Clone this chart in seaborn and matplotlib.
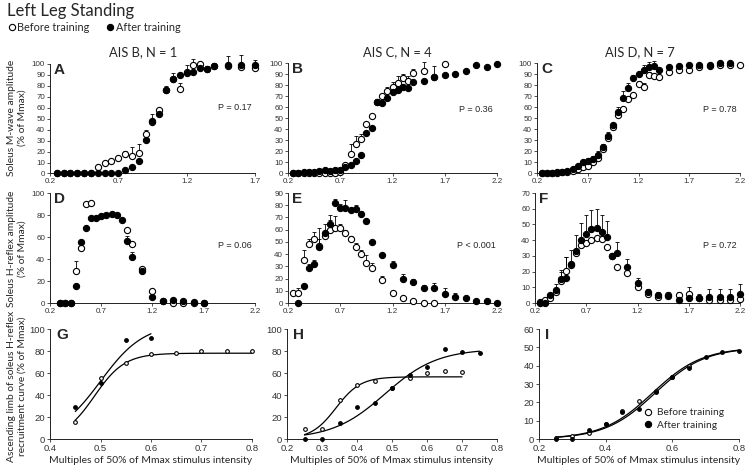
import numpy as np
import seaborn as sns
import matplotlib.pyplot as plt
from matplotlib.lines import Line2D

# ---------------- data ----------------
# A: soleus M-wave, AIS B (N = 1)
x_a = [0.25, 0.30, 0.35, 0.40, 0.45, 0.50, 0.55, 0.60, 0.65, 0.70, 0.75, 0.80, 0.85, 0.90,
       0.95, 1.00, 1.05, 1.10, 1.15, 1.20, 1.25, 1.30, 1.35, 1.40, 1.50, 1.60, 1.70]
a_before = [0, 0, 0, 0, 0, 0, 5.6, 9.4, 11, 14, 17.5, 15.6, 19, 36,
            47, 58, 76, 86, 77, 93, 99.5, 100, 95, 98, 98, 97, 96]
a_after = [0, 0, 0, 0, 0, 0, 0, 0, 0, 0, 3.4, 6.2, 11, 30.5,
           47.5, 54, 76, 86, 90, 91.5, 93, 96.5, 95, 98.5, 99.5, 99.5, 99.5]
a_err_before = [0, 0, 0, 0, 0, 0, 0, 0, 0, 0, 3, 9, 8, 4,
                0, 0, 0, 0, 6, 6, 5, 0, 0, 0, 0, 0, 0]
a_err_after = [0, 0, 0, 0, 0, 0, 0, 0, 0, 0, 0, 0, 0, 0,
               7, 0, 4, 6, 0, 0, 0, 0, 3, 2, 8, 9, 4]

# B: soleus M-wave, AIS C (N = 4)
x_b = [0.25, 0.30, 0.35, 0.40, 0.45, 0.50, 0.55, 0.60, 0.65, 0.70, 0.75, 0.80, 0.85, 0.90,
       0.95, 1.00, 1.05, 1.10, 1.15, 1.20, 1.25, 1.30, 1.35, 1.40, 1.50, 1.60, 1.70, 1.80,
       1.90, 2.00, 2.10, 2.20]
b_before = [0, 0, 0, 0, 0, 0, 0, 0, 0.5, 1, 8, 18, 27, 31,
            45, 52, 65, 70, 75, 78, 82, 86, 84, 91, 93, 87, 99, np.nan,
            np.nan, np.nan, np.nan, np.nan]
b_after = [0, 0, 1.5, 1.5, 1, 2.4, 3, 2.4, 3, 3.6, 6, 8, 11, 17,
           37, 41, 65, 64, 68, 74, 76, 78, 77, 83, 84, 87, 89, 90,
           93, 98, 96, 99]
b_err_before = [0, 0, 0, 0, 0, 0, 0, 0, 0, 0, 0, 9, 7, 5,
                0, 0, 0, 0, 3, 5, 6, 4, 4, 4, 8, 0, 0, 0,
                0, 0, 0, 0]
b_err_after = [0, 0, 0, 0, 0, 0, 0, 0, 0, 0, 0, 0, 0, 0,
               0, 0, 2, 0, 0, 3, 0, 0, 0, 0, 0, 10, 0, 0,
               2, 0, 0, 0]

# C: soleus M-wave, AIS D (N = 7)
x_c = x_b
c_before = [0, 0, 0, 0.5, 1, 1.5, 2, 4, 6, 7, 10, 14, 22, 32,
            42, 53, 58, 67, 71, 81, 78, 89, 88, 87, 92, 94, 94, 96,
            97, 98, 98, 98]
c_after = [0, 0, 0.5, 1, 1.5, 2, 4, 7, 10, 11, 13, 17, 24, 34,
           44, 56, 68, 77, 86, 90, 94, 96, 97, 94, 96, 97, 98, 98,
           98, 100, 100, np.nan]
c_err_before = [0, 0, 0, 0, 0, 0, 0, 0, 0, 0, 3, 5, 4, 0,
                0, 0, 0, 0, 0, 3, 4, 3, 0, 0, 0, 0, 0, 0,
                0, 0, 0, 0]
c_err_after = [0, 0, 0, 0, 0, 0, 0, 0, 0, 3, 3, 3, 3, 4,
               0, 4, 7, 5, 3, 0, 4, 5, 5, 0, 2, 2, 2, 0,
               0, 0, 0, 0]

# D: soleus H-reflex, AIS B
x_d = [0.30, 0.35, 0.40, 0.45, 0.50, 0.55, 0.60, 0.65, 0.70, 0.75, 0.80, 0.85, 0.90, 0.95,
       1.00, 1.10, 1.20, 1.30, 1.40, 1.50, 1.60, 1.70]
d_before = [0, 0, 0, 28.8, 50, 89.7, 91, np.nan, np.nan, np.nan, np.nan, np.nan, np.nan, 66,
            54, 31, 10.6, 1.5, 0, 0, 0, 0]
d_after = [0, 0, 0, 15.5, 55.5, 68, 77, 77, 79, 80, 80.6, 79.7, 75.8, 56,
           41.8, 28.8, 5.5, 1.5, 2.4, 1.8, 1, 0]
d_err_before = [0, 0, 0, 9, 0, 0, 0, 0, 0, 0, 0, 0, 0, 0,
                0, 0, 0, 0, 0, 0, 0, 0]
d_err_after = [0, 0, 0, 0, 0, 0, 0, 0, 0, 0, 0, 0, 0, 5,
               5, 0, 0, 0, 0, 0, 0, 0]

# E: soleus H-reflex, AIS C
x_e = [0.25, 0.30, 0.35, 0.40, 0.45, 0.50, 0.55, 0.60, 0.65, 0.70, 0.75, 0.80, 0.85, 0.90,
       0.95, 1.00, 1.10, 1.20, 1.30, 1.40, 1.50, 1.60, 1.70, 1.80, 1.90, 2.00, 2.10, 2.20]
e_before = [8, 8, 35, 48, 52, 47, 55, 60, 61, 61, 57, 52, 46, 40,
            33, 29, 19, 8, 4, 2, 0, 0, np.nan, np.nan, np.nan, np.nan, np.nan, np.nan]
e_after = [np.nan, 0, 14, 29, 32, 46, 57, 65, 82, 78, 78, 76, 77, 73,
           67, 50, 39, 31, 20, 17, 12, 12, 7, 5, 4, 2, 1.5, 0]
e_err_before = [0, 4, 8, 4, 6, 14, 10, 12, 10, 4, 3, 3, 3, 3,
                6, 4, 3, 2, 0, 0, 0, 0, 0, 0, 0, 0, 0, 0]
e_err_after = [0, 0, 0, 3, 3, 6, 0, 3, 3, 3, 6, 0, 3, 2,
               0, 0, 2, 3, 4, 3, 3, 4, 5, 3, 0, 0, 0, 0]

# F: soleus H-reflex, AIS D
x_f = x_e
f_before = [0.5, 1.7, 3.5, 7, 14, 20.5, 24, 32, 37, 38, 40, 41.6, 40.5, 35.8,
            30, 22.8, 19, 10.3, 6, 4, 5, 5, 6, 3.4, 2.2, 2.2, 2.2, 2.8]
f_after = [0, 0, 5, 8, 15, 16, 25, 33, 40, 44, 47, 48, 45, 42,
           30, 32, 23, 13, 7, 5, 4.5, 2, 3, 3.5, 4, 4, 4, 6]
f_err_before = [0, 0, 0, 0, 7, 9, 0, 0, 0, 0, 0, 0, 0, 0,
                0, 0, 0, 0, 0, 0, 2, 2, 4, 0, 0, 0, 0, 0]
f_err_after = [0, 0, 0, 4, 5, 13, 9, 10, 11, 12, 12, 12, 11, 10,
               0, 7, 5, 3, 2, 2, 2, 0, 0, 2, 5, 5, 5, 6]

# G-I: ascending limb of the H-reflex recruitment curve
x_g = [0.45, 0.50, 0.55, 0.60, 0.65, 0.70, 0.75, 0.80]
g_before = [15.7, 55.3, 68.9, 77.3, 78, 79.8, 79.8, 80.4]
g_after = [28.7, 50.8, 90, 92, np.nan, np.nan, np.nan, np.nan]

x_h = [0.25, 0.30, 0.35, 0.40, 0.45, 0.50, 0.55, 0.60, 0.65, 0.70, 0.75]
h_before = [9, 9, 35.8, 49, 53, 46, 55.5, 60, 62, 61, np.nan]
h_after = [0, 0, 15, 29, 33, 46, 58, 65.8, 82, 79, 78]

x_i = [0.25, 0.30, 0.35, 0.40, 0.45, 0.50, 0.55, 0.60, 0.65, 0.70, 0.75, 0.80]
i_before = [0.5, 1.5, 3.3, 8, 15.5, 20.5, 26, 33.6, 39.6, np.nan, np.nan, np.nan]
i_after = [0, 0.2, 4.7, 8, 15, 16.5, 25.6, 34, 39, 44.7, 47.3, 48]

# sigmoid fits drawn in G-I: top, x50, slope, x from, x to
fit_g_before = [78, 0.488, 0.030, 0.45, 0.80]
fit_g_after = [105, 0.500, 0.043, 0.45, 0.60]
fit_h_before = [56.5, 0.340, 0.035, 0.25, 0.70]
fit_h_after = [82, 0.480, 0.075, 0.25, 0.75]
fit_i_before = [50, 0.540, 0.075, 0.25, 0.80]
fit_i_after = [50, 0.548, 0.075, 0.25, 0.80]

# ---------------- figure ----------------
sns.set_style("ticks")
plt.rcParams['font.family'] = ['Liberation Sans', 'DejaVu Sans']
LABEL_FONT = 'Lato'
TICK_COLOR = '#333333'

W, H = 750, 469
fig = plt.figure(figsize=(W / 100, H / 100), dpi=100)


def add_ax(left, top, right, bottom):
    return fig.add_axes([left / W, 1 - bottom / H, (right - left) / W, (bottom - top) / H])


def draw_series(ax, x, y, err, filled, size):
    x = np.asarray(x, float)
    y = np.asarray(y, float)
    if err is not None:
        err = np.asarray(err, float)
        m = err > 0
        ax.errorbar(x[m], y[m], yerr=[np.zeros(m.sum()), err[m]], fmt='none', ecolor='black',
                    elinewidth=0.6, capsize=1.5, capthick=0.6, zorder=2, clip_on=False)
    sns.scatterplot(x=x, y=y, ax=ax, s=size, color='black' if filled else 'white',
                    edgecolor='black', linewidth=0.8, zorder=3, clip_on=False, legend=False)


def draw_fit(ax, p):
    top, x50, k, lo, hi = p
    xs = np.linspace(lo, hi, 120)
    sns.lineplot(x=xs, y=top / (1 + np.exp((x50 - xs) / k)), ax=ax, color='black', linewidth=0.9)


def style_ax(ax, xlim, xticks, ylim, yticks, fs):
    ax.set_xlim(*xlim)
    ax.set_ylim(*ylim)
    ax.set_xticks(xticks)
    ax.set_xticklabels([f'{t:g}' for t in xticks])
    ax.set_yticks(yticks)
    ax.set_yticklabels([f'{t:g}' for t in yticks])
    ax.tick_params(labelsize=fs, length=2, width=0.6, pad=1.5, colors=TICK_COLOR,
                   labelcolor=TICK_COLOR)
    sns.despine(ax=ax)
    for s in ('left', 'bottom'):
        ax.spines[s].set_linewidth(0.7)
        ax.spines[s].set_color('#222222')
    ax.set_xlabel('')
    ax.set_ylabel('')


top_panels = [
    ('A', (50, 64, 255, 173.5), x_a, a_before, a_after, a_err_before, a_err_after,
     (0.2, 1.7), [0.2, 0.7, 1.2, 1.7], (0, 100), list(range(0, 101, 10)), 'P = 0.17', 0.6),
    ('B', (288, 63, 497, 173.5), x_b, b_before, b_after, b_err_before, b_err_after,
     (0.2, 2.2), [0.2, 0.7, 1.2, 1.7, 2.2], (0, 100), list(range(0, 101, 10)), 'P = 0.36', 0.58),
    ('C', (537, 63, 740, 173.5), x_c, c_before, c_after, c_err_before, c_err_after,
     (0.2, 2.2), [0.2, 0.7, 1.2, 1.7, 2.2], (0, 100), list(range(0, 101, 10)), 'P = 0.78', 0.58),
    ('D', (50, 193, 255, 303), x_d, d_before, d_after, d_err_before, d_err_after,
     (0.2, 2.2), [0.2, 0.7, 1.2, 1.7, 2.2], (0, 100), list(range(0, 101, 20)), 'P = 0.06', 0.52),
    ('E', (288, 193, 497, 303), x_e, e_before, e_after, e_err_before, e_err_after,
     (0.2, 2.2), [0.2, 0.7, 1.2, 1.7, 2.2], (0, 90), list(range(0, 91, 10)), 'P < 0.001', 0.52),
    ('F', (535, 193, 740, 303), x_f, f_before, f_after, f_err_before, f_err_after,
     (0.2, 2.2), [0.2, 0.7, 1.2, 1.7, 2.2], (0, 70), list(range(0, 71, 10)), 'P = 0.72', 0.52),
]

for letter, rect, x, yb, ya, eb, ea, xlim, xt, ylim, yt, ptxt, py in top_panels:
    ax = add_ax(*rect)
    draw_series(ax, x, yb, eb, False, 20)
    draw_series(ax, x, ya, ea, True, 20)
    style_ax(ax, xlim, xt, ylim, yt, 5.8)
    ax.text(0.02, 1.01, letter, transform=ax.transAxes, ha='left', va='top',
            fontsize=11, fontweight='bold')
    ax.text(0.9, py, ptxt, transform=ax.transAxes, ha='center', va='center', fontsize=6.5)

bottom_panels = [
    ('G', (50, 329, 252, 439), x_g, g_before, g_after, fit_g_before, fit_g_after,
     (0.4, 0.8), [0.4, 0.5, 0.6, 0.7, 0.8], (0, 100), list(range(0, 101, 20))),
    ('H', (287, 329, 497, 439), x_h, h_before, h_after, fit_h_before, fit_h_after,
     (0.2, 0.8), [0.2, 0.3, 0.4, 0.5, 0.6, 0.7, 0.8], (0, 100), list(range(0, 101, 20))),
    ('I', (539, 329, 739, 439), x_i, i_before, i_after, fit_i_before, fit_i_after,
     (0.2, 0.8), [0.2, 0.4, 0.6, 0.8], (0, 60), list(range(0, 61, 10))),
]

for letter, rect, x, yb, ya, fb, fa, xlim, xt, ylim, yt in bottom_panels:
    ax = add_ax(*rect)
    draw_fit(ax, fb)
    draw_fit(ax, fa)
    draw_series(ax, x, yb, None, False, 7)
    draw_series(ax, x, ya, None, True, 7)
    style_ax(ax, xlim, xt, ylim, yt, 6.8)
    ax.text(0.03, 1.01, letter, transform=ax.transAxes, ha='left', va='top',
            fontsize=11, fontweight='bold')
    ax.set_xlabel('Multiples of 50% of Mmax stimulus intensity', family=LABEL_FONT,
                  fontsize=7.5, labelpad=2)
    if letter == 'I':
        hs = [Line2D([], [], ls='', marker='o', ms=4.5, mfc='white', mec='black', mew=0.8),
              Line2D([], [], ls='', marker='o', ms=4.5, mfc='black', mec='black', mew=0.8)]
        ax.legend(hs, ['Before training', 'After training'], loc='lower right',
                  bbox_to_anchor=(0.97, 0.0), frameon=False, handlelength=0.8,
                  handletextpad=0.5, labelspacing=0.35, prop={'family': LABEL_FONT, 'size': 7.3})

# shared texts
fig.text(7 / W, 1 - 11 / H, 'Left Leg Standing', family=LABEL_FONT, fontsize=12,
         ha='left', va='center')
hs = [Line2D([], [], ls='', marker='o', ms=4.5, mfc='white', mec='black', mew=0.8),
      Line2D([], [], ls='', marker='o', ms=4.5, mfc='black', mec='black', mew=0.8)]
fig.legend(hs, ['Before training', 'After training'], loc='center left',
           bbox_to_anchor=(0.0, 1 - 27.5 / H), ncol=2, frameon=False, handlelength=0.6,
           handletextpad=0.2, columnspacing=1.6, borderpad=0.3,
           prop={'family': LABEL_FONT, 'size': 7.8})

for cx, txt in [(143, 'AIS B, N = 1'), (397, 'AIS C, N = 4'), (640, 'AIS D, N = 7')]:
    fig.text(cx / W, 1 - 52 / H, txt, family=LABEL_FONT, fontsize=9.3, ha='center', va='center')

for cy, txt in [(118, 'Soleus M-wave amplitude\n(% of Mmax)'),
                (249, 'Soleus H-reflex amplitude\n(% of Mmax)'),
                (386, 'Ascending limb of soleus H-reflex\nrecruitment curve (% of Mmax)')]:
    fig.text(17 / W, 1 - cy / H, txt, family=LABEL_FONT, fontsize=7.4, rotation=90,
             ha='center', va='center', multialignment='center', linespacing=1.15)

fig.savefig('out.png', dpi=100)
